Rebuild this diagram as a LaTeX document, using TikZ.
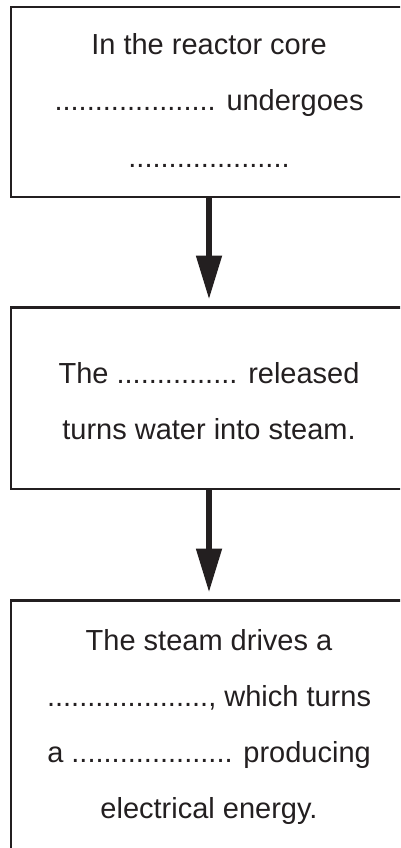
\documentclass[tikz,border=0pt]{standalone}
\usepackage{fontspec}
\setmainfont{Liberation Sans}
\usetikzlibrary{arrows.meta}
\definecolor{ink}{HTML}{231F20}
\tikzset{
  stepbox/.style={draw=ink, line width=2.4pt, inner sep=0pt, outer sep=0pt,
    minimum width=396pt, align=center, text=ink,
    font=\fontsize{29}{56}\selectfont},
  flowarrow/.style={draw=ink, line width=5.5pt,
    -{Triangle[length=43pt,width=26.5pt,line width=0pt]}, shorten >=9pt}
}
\begin{document}
\begin{tikzpicture}[x=1pt,y=-1pt]
\useasboundingbox (0,0) rectangle (400,848);
\clip (0,0) rectangle (400,848);
\node[stepbox, anchor=north west] (b1) at (11,7)
  {\rule{0pt}{48pt}In the reactor core\\
   .................... undergoes\\
   ....................\rule[-30pt]{0pt}{30pt}};
\node[stepbox, anchor=north west] (b2) at (11,307.5)
  {\rule{0pt}{76pt}The ............... released\\
   turns water into steam.\rule[-49.5pt]{0pt}{49.5pt}};
\node[stepbox, anchor=north west] (b3) at (11,600.5)
  {\rule{0pt}{49.5pt}The steam drives a\\
   ...................., which turns\\
   a .................... producing\\
   electrical energy.\rule[-34pt]{0pt}{34pt}};
\draw[flowarrow] (b1.south) -- (b2.north);
\draw[flowarrow] (b2.south) -- (b3.north);
\end{tikzpicture}
\end{document}
